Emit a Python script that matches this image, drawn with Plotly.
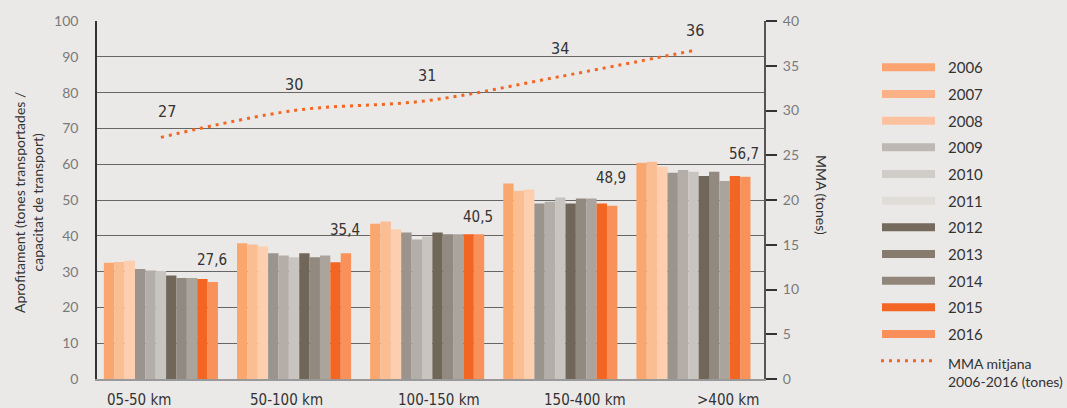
import plotly.graph_objects as go

categories = ["05-50 km", "50-100 km", "100-150 km", "150-400 km", ">400 km"]
years = ["2006", "2007", "2008", "2009", "2010", "2011", "2012", "2013", "2014", "2015", "2016"]

v2006 = [32.5, 37.9, 43.4, 54.6, 60.4]
v2007 = [32.7, 37.6, 44.0, 52.6, 60.7]
v2008 = [33.0, 37.0, 41.8, 52.9, 59.3]
v2009 = [30.7, 35.1, 40.9, 49.0, 57.6]
v2010 = [30.3, 34.5, 39.0, 49.5, 58.4]
v2011 = [30.2, 34.0, 39.8, 50.7, 57.9]
v2012 = [28.9, 35.1, 40.9, 49.0, 56.7]
v2013 = [28.2, 34.0, 40.4, 50.4, 57.9]
v2014 = [28.2, 34.5, 40.4, 50.4, 55.3]
v2015 = [27.9, 32.6, 40.4, 49.0, 56.7]
v2016 = [27.1, 35.1, 40.4, 48.4, 56.5]

avg_labels = [27.6, 35.4, 40.5, 48.9, 56.7]
mma_line = [27.0, 30.0, 31.1, 33.8, 36.7]
mma_labels = [27, 30, 31, 34, 36]

series = [v2006, v2007, v2008, v2009, v2010, v2011, v2012, v2013, v2014, v2015, v2016]
colors = ["#f9a76f", "#fbbe93", "#fdcfae", "#9b948e", "#b4aea9", "#c8c4c0",
          "#716758", "#928a81", "#aba49d", "#f26522", "#f8925a"]
legend_colors = ["#fba470", "#fbb085", "#fcc19e", "#bdb8b3", "#d0cdc8", "#e0ddd9",
                 "#756a5c", "#877b6d", "#918679", "#f26522", "#f98f5a"]

# layout geometry (pixels)
W, H = 1067, 408
L, R, T, B = 97, 303, 21, 29
PW, PH = W - L - R, H - T - B

def px(x):
    return (x - L) / PW

def py(y):
    return (H - B - y) / PH

BG = "#ebe9e7"
TXT = "#333333"
COND = "DejaVu Sans Condensed, Liberation Sans Narrow, sans-serif"
REG = "Lato, Noto Sans, sans-serif"

fig = go.Figure()
for yr, vals, c in zip(years, series, colors):
    fig.add_trace(go.Bar(name=yr, x=categories, y=vals, marker=dict(color=c, line=dict(width=0)),
                         showlegend=False))

fig.add_trace(go.Scatter(x=categories, y=mma_line, yaxis="y2", mode="lines",
                         line=dict(color="#f26522", width=3, dash="3px,5px", shape="spline"),
                         showlegend=False))

annotations = []
# average labels above groups
avg_yshift = [20, 22, 17, 26, 22]
for c, v, ys in zip(categories, avg_labels, avg_yshift):
    annotations.append(dict(x=c, y=v, xref="x", yref="y", text=f"{v:.1f}".replace(".", ","),
                            showarrow=False, xshift=51, yshift=ys,
                            xanchor="center", yanchor="middle",
                            font=dict(family=COND, size=15, color=TXT)))
# MMA labels
mma_xshift = [6, 0, 0, 0, 2]
for c, v, xs in zip(categories, mma_labels, mma_xshift):
    annotations.append(dict(x=c, y=v, xref="x", yref="y2", text=str(v), showarrow=False,
                            xshift=xs, yshift=26, xanchor="center", yanchor="middle",
                            font=dict(family=COND, size=16, color=TXT)))
# category labels
cat_xshift = [-22, -8, 12, 25, 35]
for c, xs in zip(categories, cat_xshift):
    annotations.append(dict(x=c, y=py(400), xref="x", yref="paper", text=c, showarrow=False,
                            xshift=xs, xanchor="center", yanchor="middle",
                            font=dict(family=COND, size=15, color=TXT)))
# axis titles
annotations.append(dict(x=px(28), y=py(203), xref="paper", yref="paper",
                        text="Aprofitament (tones transportades /<br>capacitat de transport)",
                        textangle=-90, showarrow=False, xanchor="center", yanchor="middle",
                        font=dict(family=REG, size=14, color=TXT)))
annotations.append(dict(x=px(822), y=py(195), xref="paper", yref="paper",
                        text="MMA (tones)", textangle=90, showarrow=False,
                        xanchor="center", yanchor="middle",
                        font=dict(family=REG, size=14, color=TXT)))

# manual legend
shapes = []
row0, step = 67.3, 26.67
for i, (yr, c) in enumerate(zip(years, legend_colors)):
    yc = row0 + i * step
    shapes.append(dict(type="rect", xref="paper", yref="paper",
                       x0=px(882), x1=px(935), y0=py(yc + 4), y1=py(yc - 4),
                       fillcolor=c, line=dict(width=0)))
    annotations.append(dict(x=px(946), y=py(yc), xref="paper", yref="paper", text=yr,
                            xanchor="left", yanchor="middle", showarrow=False,
                            font=dict(family=REG, size=15, color=TXT)))
yc = row0 + 11 * step
shapes.append(dict(type="line", xref="paper", yref="paper", x0=px(881), x1=px(935),
                   y0=py(yc), y1=py(yc), line=dict(color="#f26522", width=3, dash="3px,5px")))
annotations.append(dict(x=px(946), y=py(yc - 8), xref="paper", yref="paper",
                        text="MMA mitjana<br>2006-2016 (tones)", xanchor="left", yanchor="top",
                        align="left", showarrow=False, font=dict(family=REG, size=14, color=TXT)))

fig.update_layout(
    width=W, height=H,
    margin=dict(l=L, r=R, t=T, b=B, pad=0),
    paper_bgcolor=BG, plot_bgcolor=BG,
    barmode="group", bargap=0.143, bargroupgap=0,
    showlegend=False,
    xaxis=dict(type="category", range=[-0.48, 4.53], showticklabels=False, showgrid=False,
               zeroline=False, showline=True, linecolor="#999999", linewidth=1.5, ticks=""),
    yaxis=dict(range=[0, 100], dtick=10, showgrid=True, gridcolor="#666666", gridwidth=1.2,
               showline=True, linecolor="#333333", linewidth=1.5, ticks="", zeroline=False,
               tickfont=dict(family=REG, size=14, color="#7a7a7a"), ticklabelstandoff=14),
    yaxis2=dict(range=[0, 40], dtick=5, overlaying="y", side="right", showgrid=False,
                zeroline=False, showline=True, linecolor="#555555", linewidth=2,
                ticks="outside", ticklen=11, tickcolor="#333333", tickwidth=1.5,
                tickfont=dict(family=REG, size=14, color="#7a7a7a"), ticklabelstandoff=3),
    annotations=annotations,
    shapes=shapes,
)

fig.write_html("out.html")
